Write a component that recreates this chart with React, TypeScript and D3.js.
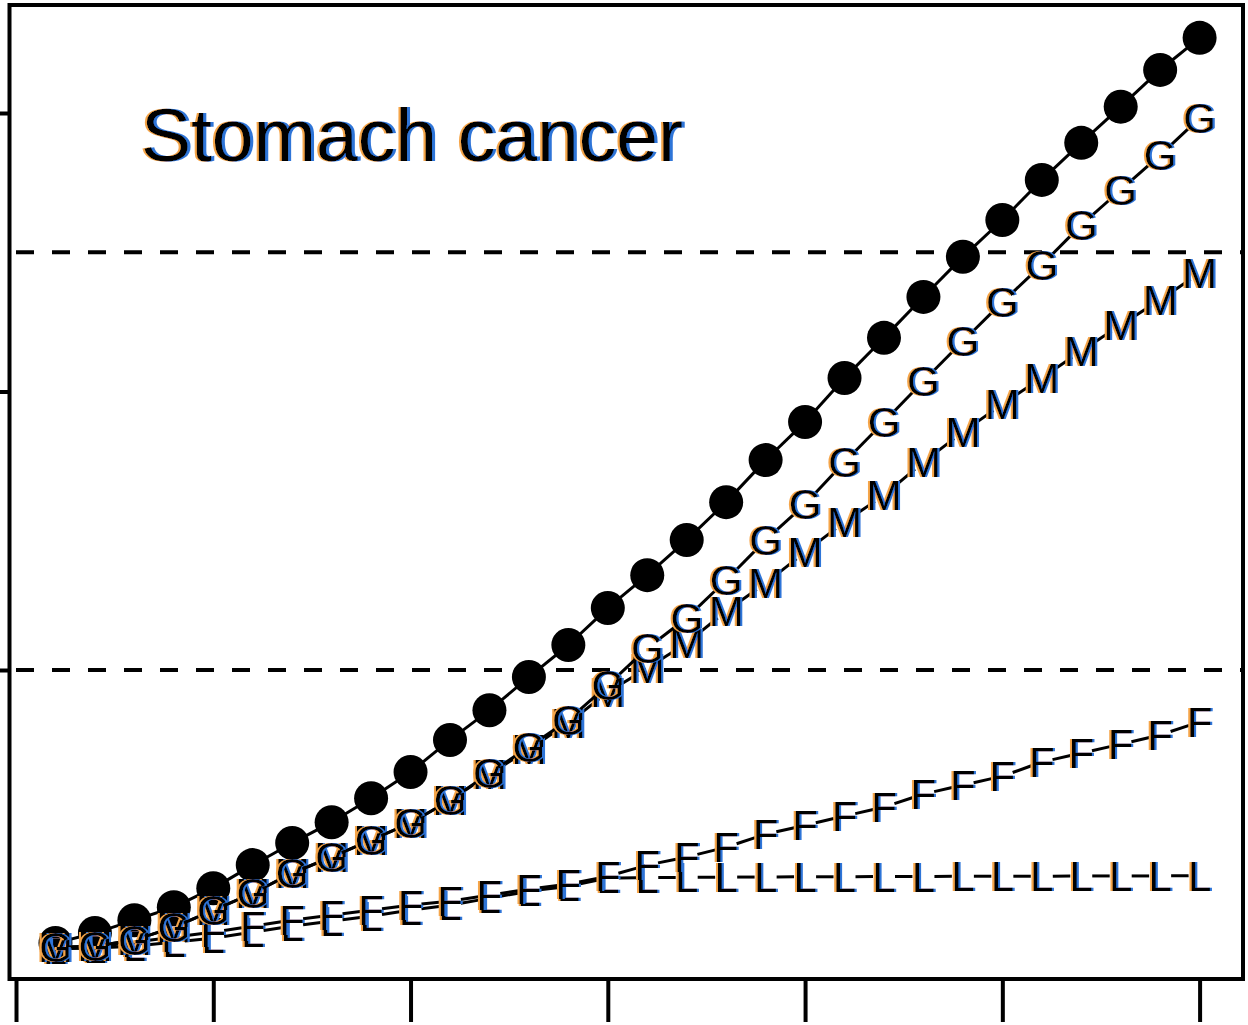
import React, { useEffect, useRef } from "react";
import * as d3 from "d3";

// follow-up time (1..30) and cumulative risk per group
const followUp = [1, 2, 3, 4, 5, 6, 7, 8, 9, 10, 11, 12, 13, 14, 15, 16, 17, 18, 19, 20, 21, 22, 23, 24, 25, 26, 27, 28, 29, 30];
const totalRisk = [0.02, 0.056, 0.102, 0.149, 0.217, 0.3, 0.379, 0.454, 0.54, 0.634, 0.749, 0.856, 0.975, 1.09, 1.223, 1.341, 1.467, 1.603, 1.754, 1.891, 2.049, 2.193, 2.34, 2.484, 2.616, 2.76, 2.893, 3.023, 3.155, 3.27];
const gRisk = [0.005, 0.009, 0.031, 0.077, 0.138, 0.199, 0.271, 0.329, 0.39, 0.451, 0.533, 0.63, 0.724, 0.821, 0.946, 1.079, 1.187, 1.323, 1.467, 1.596, 1.747, 1.891, 2.038, 2.181, 2.321, 2.455, 2.598, 2.724, 2.849, 2.982];
const mRisk = [0.005, 0.009, 0.031, 0.077, 0.138, 0.199, 0.271, 0.329, 0.39, 0.451, 0.533, 0.626, 0.716, 0.81, 0.921, 1.007, 1.097, 1.212, 1.312, 1.424, 1.532, 1.628, 1.747, 1.855, 1.955, 2.049, 2.146, 2.239, 2.329, 2.426];
const fRisk = [0.0, 0.005, 0.023, 0.041, 0.059, 0.081, 0.102, 0.12, 0.138, 0.156, 0.171, 0.192, 0.214, 0.232, 0.26, 0.3, 0.329, 0.364, 0.411, 0.443, 0.476, 0.508, 0.555, 0.587, 0.619, 0.67, 0.702, 0.734, 0.767, 0.814];
const lRisk = [0.0, 0.002, 0.009, 0.023, 0.038, 0.059, 0.081, 0.099, 0.117, 0.138, 0.156, 0.181, 0.206, 0.224, 0.253, 0.255, 0.256, 0.257, 0.257, 0.258, 0.258, 0.259, 0.259, 0.26, 0.26, 0.26, 0.261, 0.261, 0.261, 0.262];

const xTicks = [0, 5, 10, 15, 20, 25, 30];
const yTicks = [1, 2, 3];
const refLines = [1, 2.5];
const title = "Stomach cancer";

const letterSeries = [
  { pch: "L", values: lRisk },
  { pch: "F", values: fRisk },
  { pch: "M", values: mRisk },
  { pch: "G", values: gRisk },
];

export default function App() {
  const ref = useRef(null);

  useEffect(() => {
    const width = 1248;
    const height = 1025;
    const frame = { left: 9.5, right: 1243, top: 5, bottom: 979 };
    const svg = d3.select(ref.current).attr("width", width).attr("height", height);
    svg.selectAll("*").remove();

    const x = d3.scaleLinear().domain([-0.165, 31.1]).range([frame.left, frame.right]);
    const y = d3.scaleLinear().domain([-0.109, 3.388]).range([frame.bottom, frame.top]);

    const font = "'Liberation Sans', Arial, sans-serif";

    // orange / blue colour fringes of the original text rendering
    const fringe = (id, shift) => {
      const f = svg
        .append("defs")
        .append("filter")
        .attr("id", id)
        .attr("x", "-20%")
        .attr("y", "-20%")
        .attr("width", "140%")
        .attr("height", "140%");
      f.append("feOffset").attr("in", "SourceAlpha").attr("dx", -shift).attr("result", "l");
      f.append("feFlood").attr("flood-color", "#f5a54a").attr("result", "oc");
      f.append("feComposite").attr("in", "oc").attr("in2", "l").attr("operator", "in").attr("result", "orange");
      f.append("feOffset").attr("in", "SourceAlpha").attr("dx", shift).attr("result", "r");
      f.append("feFlood").attr("flood-color", "#2f74d8").attr("result", "bc");
      f.append("feComposite").attr("in", "bc").attr("in2", "r").attr("operator", "in").attr("result", "blue");
      const m = f.append("feMerge");
      m.append("feMergeNode").attr("in", "orange");
      m.append("feMergeNode").attr("in", "blue");
      m.append("feMergeNode").attr("in", "SourceGraphic");
    };
    fringe("fringeSmall", 2);
    fringe("fringeBig", 2.5);

    // broken line as in type = "b"
    const gapLine = (g, values, gap) => {
      const pts = values.map((v, i) => [x(followUp[i]), y(v)]);
      for (let i = 0; i < pts.length - 1; i++) {
        const [x0, y0] = pts[i];
        const [x1, y1] = pts[i + 1];
        const d = Math.hypot(x1 - x0, y1 - y0);
        if (d <= 2 * gap) continue;
        const f = gap / d;
        g.append("line")
          .attr("x1", x0 + f * (x1 - x0))
          .attr("y1", y0 + f * (y1 - y0))
          .attr("x2", x1 - f * (x1 - x0))
          .attr("y2", y1 - f * (y1 - y0))
          .attr("stroke", "#000")
          .attr("stroke-width", 3);
      }
    };

    // axes ticks
    const xAxis = svg
      .append("g")
      .attr("transform", `translate(0,${frame.bottom})`)
      .call(d3.axisBottom(x).tickValues(xTicks).tickSize(43).tickFormat(() => ""));
    xAxis.select(".domain").remove();
    xAxis.selectAll("line").attr("stroke", "#000").attr("stroke-width", 4);

    const yAxis = svg
      .append("g")
      .attr("transform", `translate(${frame.left},0)`)
      .call(d3.axisLeft(y).tickValues(yTicks).tickSize(43).tickFormat(() => ""));
    yAxis.select(".domain").remove();
    yAxis.selectAll("line").attr("stroke", "#000").attr("stroke-width", 4);

    // dashed reference lines
    svg
      .append("g")
      .selectAll("line")
      .data(refLines)
      .join("line")
      .attr("x1", frame.left)
      .attr("x2", frame.right)
      .attr("y1", (d) => y(d))
      .attr("y2", (d) => y(d))
      .attr("stroke", "#000")
      .attr("stroke-width", 4)
      .attr("stroke-dasharray", "18,18")
      .attr("stroke-dashoffset", 29.5);

    // total: filled circles
    const gTotal = svg.append("g");
    gapLine(gTotal, totalRisk, 11);
    gTotal
      .selectAll("circle")
      .data(totalRisk)
      .join("circle")
      .attr("cx", (d, i) => x(followUp[i]))
      .attr("cy", (d) => y(d))
      .attr("r", 17)
      .attr("fill", "#000");

    // letter series
    letterSeries.forEach((s) => {
      gapLine(svg.append("g"), s.values, 11);
      svg
        .append("g")
        .attr("filter", "url(#fringeSmall)")
        .selectAll("text")
        .data(s.values)
        .join("text")
        .attr("x", (d, i) => x(followUp[i]))
        .attr("y", (d) => y(d) + 15)
        .attr("text-anchor", "middle")
        .attr("font-family", font)
        .attr("font-size", 42)
        .attr("fill", "#000")
        .text(s.pch);
    });

    // frame
    svg
      .append("rect")
      .attr("x", frame.left)
      .attr("y", frame.top)
      .attr("width", frame.right - frame.left)
      .attr("height", frame.bottom - frame.top)
      .attr("fill", "none")
      .attr("stroke", "#000")
      .attr("stroke-width", 4);

    // title
    svg
      .append("text")
      .attr("x", 141)
      .attr("y", 161)
      .attr("font-family", font)
      .attr("font-size", 75)
      .attr("fill", "#000")
      .attr("filter", "url(#fringeBig)")
      .text(title);
  }, []);

  return (
    <svg
      ref={ref}
      style={{ position: "absolute", left: 0, top: 0, display: "block", background: "#fff" }}
    />
  );
}
